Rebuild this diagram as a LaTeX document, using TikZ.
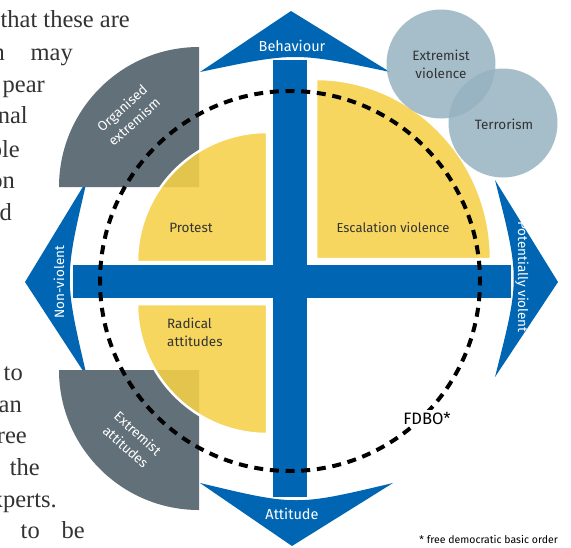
\documentclass[tikz,border=0pt]{standalone}
\usepackage{fontspec}
\setmainfont{Fira Sans}
\newfontfamily\serifx{Liberation Serif}
\definecolor{bpblue}{RGB}{0,102,179}
\definecolor{bpgray}{RGB}{98,112,121}
\definecolor{bpyellow}{RGB}{245,208,72}
\definecolor{bpcircle}{RGB}{150,178,193}
\definecolor{bptext}{RGB}{51,51,51}
\tikzset{
  bluefill/.style={fill=bpblue, draw=none},
  grayfill/.style={fill=bpgray, draw=none},
  yellowfill/.style={fill=bpyellow, fill opacity=0.88, draw=white, line width=2.5pt},
  bubble/.style={circle, fill=bpcircle, fill opacity=0.85, draw=none, minimum size=109pt, inner sep=0pt},
  lbl/.style={font=\fontsize{13.5}{18}\selectfont, inner sep=0pt, align=center},
  whitelbl/.style={lbl, text=white},
  arrowlbl/.style={whitelbl, font=\fontsize{14.5}{18}\selectfont},
  darklbl/.style={lbl, text=bptext},
  pagetext/.style={font=\serifx\fontsize{24.5}{30}\selectfont, text=bptext, inner sep=0pt, anchor=base east},
  fdbo/.style={draw=black, line width=4pt, dash pattern=on 9pt off 6.71pt, dash phase=4.5pt}
}
\begin{document}
\begin{tikzpicture}[x=1pt,y=1pt]
\useasboundingbox (0,0) rectangle (571,-547);
% cross bars
\fill[bluefill] (273,-60) rectangle (307,-497);
\fill[bluefill] (73,-265) rectangle (511,-298);
% arrowheads
\fill[bluefill] (291,-11) -- (390,-72) .. controls (295,-52) .. (200,-72) -- cycle;
\fill[bluefill] (292,-546) -- (393,-483) .. controls (296,-506) .. (200,-483) -- cycle;
\fill[bluefill] (558,-282) -- (495,-180) .. controls (520,-278.5) .. (495,-377) -- cycle;
\fill[bluefill] (25,-282) -- (87,-180) .. controls (64,-278.5) .. (87,-377) -- cycle;
% gray quarter discs
\fill[grayfill] (199,-187) -- (59,-187) arc[start angle=180, end angle=90, radius=140] -- cycle;
\fill[grayfill] (199,-370) -- (59,-370) arc[start angle=180, end angle=270, radius=140] -- cycle;
% yellow quarter discs
\filldraw[yellowfill] (267,-262) -- (137,-262) arc[start angle=180, end angle=90, radius=130] -- cycle;
\filldraw[yellowfill] (267,-304) -- (137,-304) arc[start angle=180, end angle=270, radius=130] -- cycle;
\filldraw[yellowfill] (316,-259) -- (491,-259) arc[start angle=0, end angle=90, x radius=175, y radius=180] -- cycle;
% bubbles
\node[bubble] (ev) at (441,-64) {};
\node[bubble] (ter) at (503,-123) {};
% FDBO circle
\draw[fdbo] (290,-281) circle[radius=190];
% labels
\node[arrowlbl] (beh) at (292,-46) {Behaviour};
\node[arrowlbl] (att) at (292,-514) {Attitude};
\node[whitelbl, rotate=-90] (pv) at (522,-277) {Potentially violent};
\node[whitelbl, rotate=90] (nv) at (59,-282) {Non-violent};
\node[whitelbl, rotate=42] (oe) at (128,-115) {Organised\\extremism};
\node[whitelbl, rotate=-42] (ea) at (132,-440) {Extremist\\attitudes};
\node[darklbl] (pro) at (191,-228) {Protest};
\node[darklbl, font=\fontsize{13}{18}\selectfont] (esc) at (393,-228) {Escalation violence};
\node[darklbl, align=left, anchor=west] (rad) at (167,-332) {Radical\\attitudes};
\node[darklbl] (evl) at (ev) {Extremist\\violence};
\node[darklbl] (terl) at (504,-124) {Terrorism};
\node[lbl, text=black, fill=white, inner sep=1.5pt, font=\fontsize{16.5}{18}\selectfont] (fd) at (427,-418) {FDBO*};
\node[lbl, text=black, font=\fontsize{10.5}{12}\selectfont, anchor=east] (foot) at (558,-539) {* free democratic basic order};
% page text fragments
\node[pagetext] (t1) at (130,-27) {that these are};
\node[pagetext] (t2a) at (5,-60) {n};
\node[pagetext] (t2b) at (73,-60) {may};
\node[pagetext] (t3) at (45,-92) {pear};
\node[pagetext] (t4) at (28,-123) {nal};
\node[pagetext] (t5) at (20,-157) {ple};
\node[pagetext] (t6) at (15,-188) {on};
\node[pagetext] (t7) at (12,-220) {nd};
\node[pagetext] (t8) at (23,-380) {to};
\node[pagetext] (t9) at (22,-412) {an};
\node[pagetext] (t10) at (27,-443) {ree};
\node[pagetext] (t11) at (40,-475) {the};
\node[pagetext] (t12) at (57,-507) {xperts.};
\node[pagetext] (t13a) at (40,-538) {to};
\node[pagetext] (t13b) at (85,-538) {be};
\end{tikzpicture}
\end{document}
